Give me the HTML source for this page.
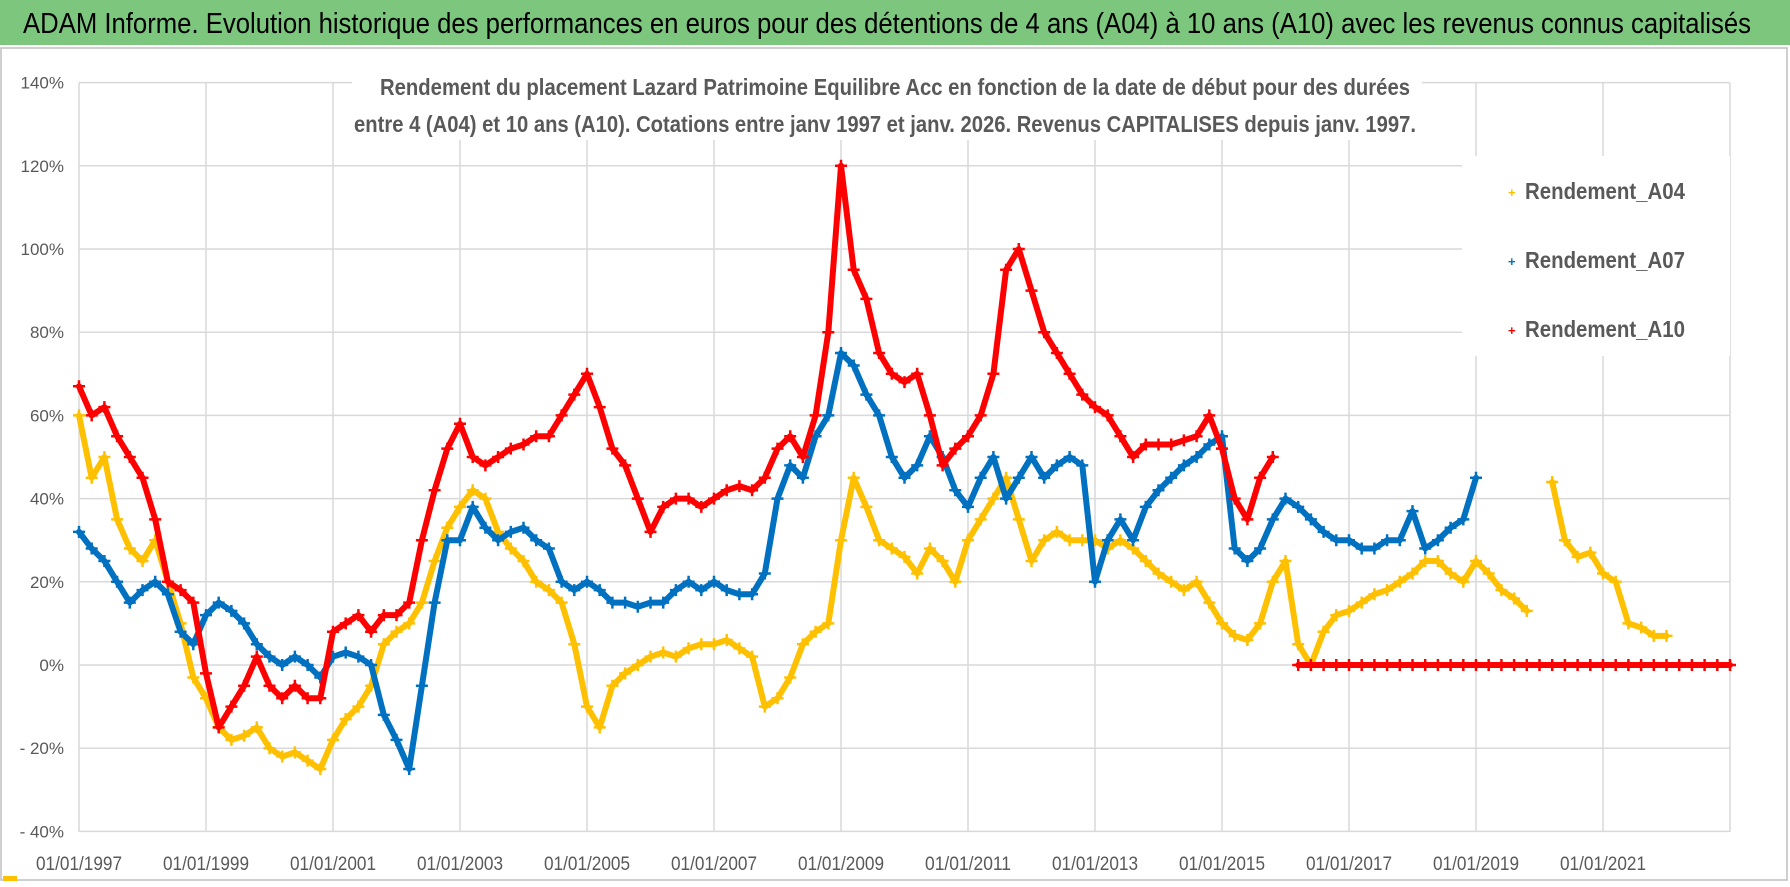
<!DOCTYPE html>
<html><head><meta charset="utf-8"><style>
html,body{margin:0;padding:0;background:#fff;}
svg{display:block;font-family:"Liberation Sans",sans-serif;}
</style></head><body>
<svg id="chart" width="1790" height="887" viewBox="0 0 1790 887">
<rect x="0" y="0" width="1790" height="887" fill="#fff"/>
<rect x="0" y="0" width="1790" height="45" fill="#7CC67E"/>
<text x="23" y="33" font-size="29" fill="#000" textLength="1728" lengthAdjust="spacingAndGlyphs">ADAM Informe. Evolution historique des performances en euros pour des détentions de 4 ans (A04) à 10 ans (A10) avec les revenus connus capitalisés</text>
<rect x="1" y="48" width="1786" height="832" fill="none" stroke="#bfbfbf" stroke-width="1.5"/>
<rect x="3" y="876" width="14" height="5" fill="#FFC000"/>
<g id="grid"></g>
<g id="axes"></g>
<g id="series"></g>
<rect x="352" y="68" width="1070" height="72" fill="#fff"/>
<text x="380" y="95" font-size="23" font-weight="bold" fill="#595959" textLength="1030" lengthAdjust="spacingAndGlyphs">Rendement du placement Lazard Patrimoine Equilibre Acc en fonction de la date de début pour des durées</text>
<text x="354" y="132" font-size="23" font-weight="bold" fill="#595959" textLength="1062" lengthAdjust="spacingAndGlyphs">entre 4 (A04) et 10 ans (A10). Cotations entre janv 1997 et janv. 2026. Revenus CAPITALISES depuis janv. 1997.</text>
<g>
<rect x="1462" y="156" width="268" height="200" fill="#fff"/>
<g><text x="1508" y="197" font-size="13" fill="#FFC000" font-weight="bold">+</text><text x="1525" y="199" font-size="23" font-weight="bold" fill="#595959" textLength="160" lengthAdjust="spacingAndGlyphs">Rendement_A04</text></g>
<g><text x="1508" y="266" font-size="13" fill="#0070C0" font-weight="bold">+</text><text x="1525" y="268" font-size="23" font-weight="bold" fill="#595959" textLength="160" lengthAdjust="spacingAndGlyphs">Rendement_A07</text></g>
<g><text x="1508" y="335" font-size="13" fill="#FF0000" font-weight="bold">+</text><text x="1525" y="337" font-size="23" font-weight="bold" fill="#595959" textLength="160" lengthAdjust="spacingAndGlyphs">Rendement_A10</text></g>
</g>
</svg>
<script>
const startYear = 1997;
const stepYears = 0.2;
const yTicks = [140,120,100,80,60,40,20,0,-20,-40];
const yTickLabels = ["140%","120%","100%","80%","60%","40%","20%","0%","- 20%","- 40%"];
const xTickYears = [1997,1999,2001,2003,2005,2007,2009,2011,2013,2015,2017,2019,2021];
const xTickLabels = ["01/01/1997","01/01/1999","01/01/2001","01/01/2003","01/01/2005","01/01/2007","01/01/2009","01/01/2011","01/01/2013","01/01/2015","01/01/2017","01/01/2019","01/01/2021"];
const a04 = [60,45,50,35,28,25,30,20,10,-3,-8,-15,-18,-17,-15,-20,-22,-21,-23,-25,-18,-13,-10,-5,5,8,10,15,25,33,38,42,40,32,28,25,20,18,15,5,-10,-15,-5,-2,0,2,3,2,4,5,5,6,4,2,-10,-8,-3,5,8,10,30,45,38,30,28,26,22,28,25,20,30,35,40,45,35,25,30,32,30,30,30,28,30,28,25,22,20,18,20,15,10,7,6,10,20,25,5,0,8,12,13,15,17,18,20,22,25,25,22,20,25,22,18,16,13,null,44,30,26,27,22,20,10,9,7,7];
const a07 = [32,28,25,20,15,18,20,17,8,5,12,15,13,10,5,2,0,2,0,-3,2,3,2,0,-12,-18,-25,-5,15,30,30,38,33,30,32,33,30,28,20,18,20,18,15,15,14,15,15,18,20,18,20,18,17,17,22,40,48,45,55,60,75,72,65,60,50,45,48,55,50,42,38,45,50,40,45,50,45,48,50,48,20,30,35,30,38,42,45,48,50,53,55,28,25,28,35,40,38,35,32,30,30,28,28,30,30,37,28,30,33,35,45];
const a10 = [67,60,62,55,50,45,35,20,18,15,-2,-15,-10,-5,2,-5,-8,-5,-8,-8,8,10,12,8,12,12,15,30,42,52,58,50,48,50,52,53,55,55,60,65,70,62,52,48,40,32,38,40,40,38,40,42,43,42,45,52,55,50,60,80,120,95,88,75,70,68,70,60,48,52,55,60,70,95,100,90,80,75,70,65,62,60,55,50,53,53,53,54,55,60,52,40,35,45,50,null,0,0,0,0,0,0,0,0,0,0,0,0,0,0,0,0,0,0,0,0,0,0,0,0,0,0,0,0,0,0,0,0,0,0,0];

const NS="http://www.w3.org/2000/svg";
const L=79,R=1730,T=83,B=832;
function X(t){return L+(t-1997)*63.5;}
function Y(v){return 665-v*4.16;}
function mk(tag,attrs,parent){const e=document.createElementNS(NS,tag);for(const k in attrs)e.setAttribute(k,attrs[k]);parent.appendChild(e);return e;}
const grid=document.getElementById('grid'),axes=document.getElementById('axes'),series=document.getElementById('series');
yTicks.forEach((v,i)=>{
  const g=mk('line',{x1:L,x2:R,y1:Y(v),y2:Y(v),stroke:'#d9d9d9','stroke-width':1.5},grid);
  
  
  const t=mk('text',{x:64,y:Y(v)+6,'font-size':17,fill:'#595959','text-anchor':'end'},axes);
  t.textContent=yTickLabels[i];
  
  
});
for(let yr=1997;yr<=2023;yr+=2){
  const g=mk('line',{x1:X(yr),x2:X(yr),y1:T,y2:B,stroke:'#d9d9d9','stroke-width':1.5},grid);
  
  
}
xTickYears.forEach((yr,i)=>{
  const t=mk('text',{x:X(yr),y:870,'font-size':19,fill:'#595959','text-anchor':'middle',textLength:86,lengthAdjust:'spacingAndGlyphs'},axes);
  t.textContent=xTickLabels[i];
  
  
});
function draw(arr,color,name){
  const g=mk('g',{},series);
  
  
  let segs=[],cur=[];
  arr.forEach((v,i)=>{const t=startYear+i*stepYears;if(v===null){if(cur.length)segs.push(cur);cur=[];}else cur.push([X(t),Y(v)]);});
  if(cur.length)segs.push(cur);
  segs.forEach(s=>{
    const p=mk('polyline',{points:s.map(q=>q.join(',')).join(' '),fill:'none',stroke:color,'stroke-width':6,'stroke-linejoin':'round','stroke-linecap':'round'},g);
    
    
    s.forEach(q=>{
      const m=mk('path',{d:`M${q[0]-6},${q[1]}h12M${q[0]},${q[1]-6}v12`,stroke:color,'stroke-width':2.5},g);
      
      
    });
  });
}
draw(a04,'#FFC000','series-a04');
draw(a07,'#0070C0','series-a07');
draw(a10,'#FF0000','series-a10');
</script>
</body></html>
